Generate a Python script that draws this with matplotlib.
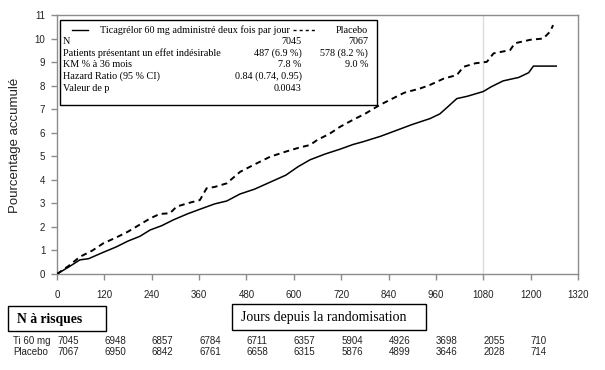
import matplotlib
matplotlib.use("Agg")
import matplotlib.pyplot as plt
import matplotlib.transforms as mtransforms
from matplotlib.patches import Rectangle
from matplotlib.lines import Line2D

# cumulative %
tica_days = [0, 30, 58, 80, 117, 150, 180, 210, 236, 265, 295, 330, 362, 400, 430,
             464, 500, 540, 580, 610, 641, 680, 717, 750, 776, 820, 860, 900, 945,
             970, 990, 1013, 1040, 1080, 1100, 1130, 1170, 1195, 1207, 1265]
tica_pct = [0, 0.3, 0.6, 0.65, 0.92, 1.15, 1.4, 1.6, 1.87, 2.05, 2.3, 2.55, 2.75, 2.98, 3.1,
            3.4, 3.6, 3.9, 4.2, 4.55, 4.85, 5.1, 5.3, 5.5, 5.62, 5.85, 6.1, 6.35, 6.6,
            6.8, 7.1, 7.45, 7.55, 7.75, 7.95, 8.2, 8.35, 8.55, 8.83, 8.83]

plac_days = [0, 30, 58, 90, 117, 150, 180, 210, 236, 260, 286, 303, 330, 362, 379, 400,
             430, 464, 500, 540, 580, 610, 641, 660, 690, 717, 750, 780, 818, 850, 880,
             920, 945, 980, 1013, 1030, 1060, 1089, 1106, 1130, 1148, 1160, 1200, 1232,
             1249, 1257]
plac_pct = [0, 0.35, 0.73, 1.0, 1.3, 1.55, 1.8, 2.1, 2.36, 2.55, 2.58, 2.86, 3.0, 3.14, 3.64, 3.7,
            3.85, 4.34, 4.65, 4.98, 5.2, 5.35, 5.48, 5.7, 5.95, 6.25, 6.55, 6.8, 7.18, 7.45, 7.7,
            7.88, 8.03, 8.3, 8.45, 8.8, 8.95, 9.01, 9.37, 9.45, 9.51, 9.8, 9.95, 10.0,
            10.29, 10.57]

risk_days = [0, 120, 240, 360, 480, 600, 720, 840, 960, 1080, 1200]
risk_tica = [7045, 6948, 6857, 6784, 6711, 6357, 5904, 4926, 3698, 2055, 710]
risk_plac = [7067, 6950, 6842, 6761, 6658, 6315, 5876, 4899, 3646, 2028, 714]

stats_labels = ['N', 'Patients présentant un effet indésirable', 'KM % à 36 mois',
                'Hazard Ratio (95 % CI)', 'Valeur de p']
stats_tica = ['7045', '487 (6.9 %)', '7.8 %', '0.84 (0.74, 0.95)', '0.0043']
stats_plac = ['7067', '578 (8.2 %)', '9.0 %', '', '']

W, H = 605, 370
fig = plt.figure(figsize=(W / 100, H / 100), dpi=100)
ax = fig.add_axes([57 / W, 1 - 274 / H, 521 / W, 259 / H])

grey = '#8c8c8c'
serif = 'Liberation Serif'
sans = 'Liberation Sans'

ax.axvline(1080, color='#dcdcdc', lw=1, zorder=1)
ax.plot(tica_days, tica_pct, color='black', lw=1.1, zorder=3)
ax.plot(plac_days, plac_pct, color='black', lw=1.4, dashes=(3, 2.2), zorder=3)

ax.set_xlim(0, 1320)
ax.set_ylim(0, 11)
ax.set_xticks(range(0, 1321, 120))
ax.set_yticks(range(0, 12))
for s in ax.spines.values():
    s.set_color(grey)
    s.set_linewidth(1)
ax.tick_params(axis='both', color=grey, length=4.5, width=1, labelsize=7,
               labelcolor='#222222')
ax.tick_params(axis='x', pad=7)
ax.tick_params(axis='y', pad=4)
for lab in ax.get_xticklabels() + ax.get_yticklabels():
    lab.set_family(sans)

fig.text(15 / W, 1 - 145 / H, 'Pourcentage accumulé', rotation=90, ha='center',
         va='center', fontsize=9.5, family=sans, color='#222222')

# stats box inside the plot
ax.add_patch(Rectangle((0.006, 0.653), 0.608, 0.328, transform=ax.transAxes,
                       fill=False, edgecolor='black', lw=1, zorder=4))
rows_y = [0.896, 0.853, 0.807, 0.764, 0.718]
fs = 7.3
ax.add_line(Line2D([0.029, 0.06], [0.942, 0.942], transform=ax.transAxes,
                   color='black', lw=1))
ax.text(0.083, 0.942, 'Ticagrélor 60 mg administré deux fois par jour',
        transform=ax.transAxes, va='center', fontsize=fs, family=serif)
ax.add_line(Line2D([0.453, 0.497], [0.942, 0.942], transform=ax.transAxes,
                   color='black', lw=1, dashes=(2.2, 2.2)))
ax.text(0.597, 0.942, 'Placebo', transform=ax.transAxes, va='center', ha='right',
        fontsize=fs, family=serif)
for y, lab, a, b in zip(rows_y, stats_labels, stats_tica, stats_plac):
    ax.text(0.0115, y, lab, transform=ax.transAxes, va='center', fontsize=fs, family=serif)
    ax.text(0.47, y, a, transform=ax.transAxes, va='center', ha='right', fontsize=fs,
            family=serif)
    ax.text(0.597, y, b, transform=ax.transAxes, va='center', ha='right', fontsize=fs,
            family=serif)

# boxes below the axis
fig.add_artist(Rectangle((8 / W, 1 - 331 / H), 98 / W, 25 / H, transform=fig.transFigure,
                         fill=False, edgecolor='black', lw=1))
fig.text(17 / W, 1 - 320 / H, 'N à risques', va='center', fontsize=9.8,
         fontweight='bold', family=serif)
fig.add_artist(Rectangle((232 / W, 1 - 330 / H), 194 / W, 26 / H, transform=fig.transFigure,
                         fill=False, edgecolor='black', lw=1))
fig.text(241 / W, 1 - 317 / H, 'Jours depuis la randomisation', va='center', fontsize=10,
         family=serif)

# at-risk table
tr = mtransforms.blended_transform_factory(ax.transData, fig.transFigure)
for y, name, vals in [(341, 'Ti 60 mg', risk_tica), (352, 'Placebo', risk_plac)]:
    fig.text(13 / W, 1 - y / H, name, va='center', fontsize=7, family=sans, color='#222222')
    for d, v in zip(risk_days, vals):
        ax.text(d, 1 - y / H, str(v), transform=tr, va='center', ha='left', fontsize=7,
                family=sans, color='#222222', clip_on=False)

fig.savefig('out.png', dpi=100)
